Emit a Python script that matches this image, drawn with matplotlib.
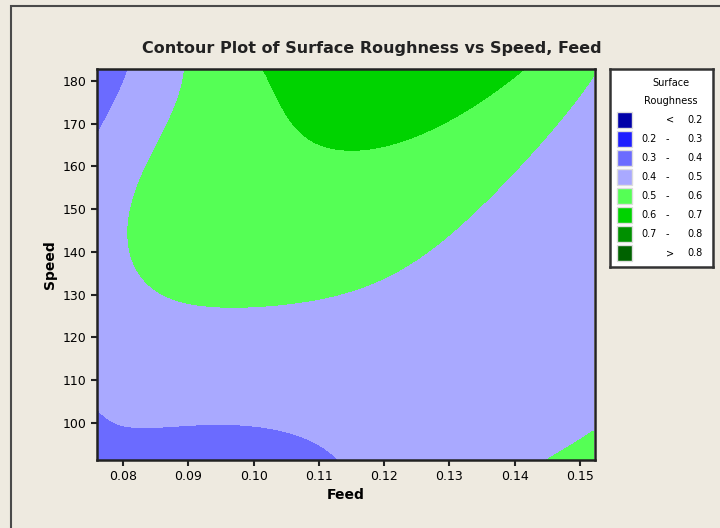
import numpy as np
import matplotlib
matplotlib.use("Agg")
from matplotlib import pyplot as plt
from matplotlib.patches import Rectangle

# grid of surface roughness values
feed = [0.076, 0.085, 0.095, 0.105, 0.115, 0.125, 0.135, 0.145, 0.152]
speed = [182.8, 170, 160, 150, 140, 130, 120, 110, 100, 91.3]
# one column per feed value, top (high speed) to bottom
roughness = [
    [0.326, 0.400, 0.430, 0.450, 0.460, 0.450, 0.435, 0.420, 0.400, 0.388],
    [0.449, 0.480, 0.505, 0.530, 0.545, 0.495, 0.460, 0.430, 0.398, 0.382],
    [0.555, 0.548, 0.553, 0.555, 0.545, 0.508, 0.470, 0.440, 0.400, 0.378],
    [0.632, 0.597, 0.573, 0.563, 0.540, 0.500, 0.470, 0.445, 0.408, 0.380],
    [0.668, 0.628, 0.576, 0.566, 0.540, 0.490, 0.465, 0.445, 0.422, 0.398],
    [0.670, 0.612, 0.573, 0.553, 0.505, 0.470, 0.450, 0.440, 0.440, 0.438],
    [0.640, 0.574, 0.533, 0.500, 0.465, 0.440, 0.430, 0.430, 0.440, 0.470],
    [0.573, 0.510, 0.475, 0.445, 0.420, 0.418, 0.420, 0.430, 0.460, 0.502],
    [0.506, 0.470, 0.440, 0.412, 0.387, 0.410, 0.424, 0.440, 0.485, 0.540],
]

levels = [0.2, 0.3, 0.4, 0.5, 0.6, 0.7, 0.8]
colors = ['#0000a8', '#1e1eff', '#6b6bff', '#a9a9ff',
          '#55ff55', '#00d300', '#009000', '#006200']
labels = ['<  0.2', '0.2  -  0.3', '0.3  -  0.4', '0.4  -  0.5',
          '0.5  -  0.6', '0.6  -  0.7', '0.7  -  0.8', '>  0.8']

bg = '#eeeae0'
plt.rcParams['font.family'] = ['DejaVu Sans']

# smooth response surface: least squares polynomial through the read values
F, S = np.meshgrid(feed, speed, indexing='ij')
Z = np.array(roughness)
f0, f1 = min(feed), max(feed)
s0, s1 = min(speed), max(speed)
deg = 5
powers = [(i, j) for i in range(deg + 1) for j in range(deg + 1) if i + j <= deg]

def design(f, s):
    u = (np.ravel(f) - f0) / (f1 - f0)
    v = (np.ravel(s) - s0) / (s1 - s0)
    return np.column_stack([u**i * v**j for i, j in powers])

coef = np.linalg.lstsq(design(F, S), Z.ravel(), rcond=None)[0]
fg, sg = np.meshgrid(np.linspace(f0, f1, 300), np.linspace(s0, s1, 300))
zg = (design(fg, sg) @ coef).reshape(fg.shape)

fig = plt.figure(figsize=(7.2, 5.28), dpi=100, facecolor=bg)
fig.patches.append(Rectangle((11/720, -0.1), 1.1, 1 - 6/528 + 0.1,
                             transform=fig.transFigure, fill=False,
                             edgecolor='#4a4a4a', linewidth=1.5))

ax = fig.add_axes([97/720, 1 - 460/528, 498/720, 391/528])
ax.contourf(fg, sg, zg, levels=[-10] + levels + [10], colors=colors)
ax.set_xlim(0.076, 0.1523)
ax.set_ylim(91.3, 182.8)
ax.set_xticks([0.08, 0.09, 0.10, 0.11, 0.12, 0.13, 0.14, 0.15])
ax.set_xticklabels(['0.08', '0.09', '0.10', '0.11', '0.12', '0.13', '0.14', '0.15'])
ax.set_yticks(range(100, 181, 10))
ax.tick_params(direction='out', length=4, width=1.5, labelsize=9, color='#222222')
for sp in ax.spines.values():
    sp.set_linewidth(1.8)
    sp.set_color('#222222')
ax.set_xlabel('Feed', fontsize=10, fontweight='bold', labelpad=3)
ax.set_ylabel('Speed', fontsize=10, fontweight='bold', labelpad=4)
fig.text(0.516, 1 - 48/528, 'Contour Plot of Surface Roughness vs Speed, Feed',
         ha='center', va='center', fontsize=11.5, fontweight='bold', color='#222222')

# legend box, Minitab style
lax = fig.add_axes([610/720, 1 - 267/528, 103/720, 198/528])
lax.set_xlim(0, 103)
lax.set_ylim(198, 0)
lax.set_xticks([])
lax.set_yticks([])
for sp in lax.spines.values():
    sp.set_linewidth(1.8)
    sp.set_color('#333333')
lax.text(61, 14, 'Surface', ha='center', va='center', fontsize=7)
lax.text(61, 32, 'Roughness', ha='center', va='center', fontsize=7)
for i, (c, lab) in enumerate(zip(colors, labels)):
    yc = 51 + i * 19
    lax.add_patch(Rectangle((7, yc - 8), 15, 16, facecolor=c, edgecolor='#dddddd'))
    if lab.startswith('<') or lab.startswith('>'):
        lax.text(60, yc, lab[0], ha='center', va='center', fontsize=7)
        lax.text(93, yc, lab[-3:], ha='right', va='center', fontsize=7)
    else:
        lax.text(31, yc, lab[:3], ha='left', va='center', fontsize=7)
        lax.text(57, yc, '-', ha='center', va='center', fontsize=7)
        lax.text(93, yc, lab[-3:], ha='right', va='center', fontsize=7)

fig.savefig('out.png', dpi=100, facecolor=bg)
